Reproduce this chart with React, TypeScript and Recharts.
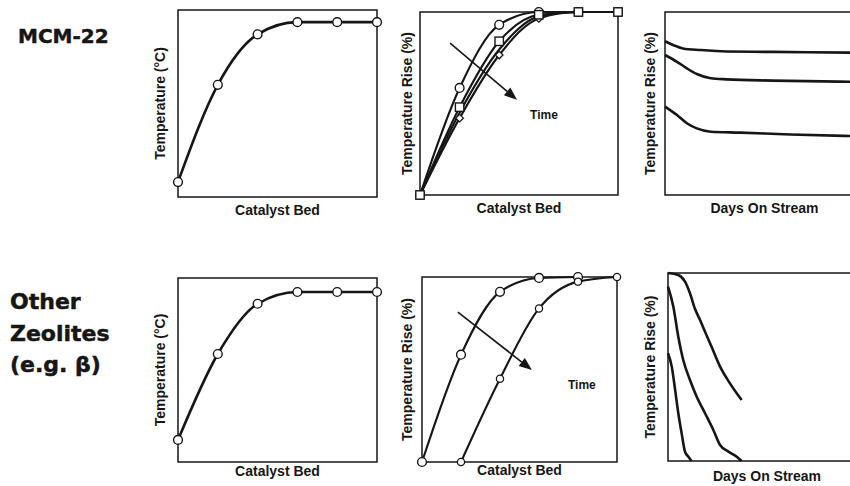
import React from "react";
import { LineChart, Line, XAxis, YAxis, ReferenceArea, ReferenceLine, ReferenceDot, Label } from "recharts";

// catalyst bed positions (thermocouple points)
const bedPositions = [0, 1, 2, 3, 4, 5];

// MCM-22 temperature profile along the bed
const mcmTemperature = [8, 60, 87, 93.5, 93.5, 93.5];
// MCM-22 temperature rise profiles, shifting slowly with time
const mcmRiseCircle = [0, 58.5, 93, 100, 100, 100];
const mcmRiseSquare = [0, 48, 84, 98.5, 100, 100];
const mcmRisePlain = [0, 45, 79.5, 97.5, 100, 100];
const mcmRiseDiamond = [0, 42, 76.5, 96.5, 100, 100];

// MCM-22 temperature rise vs days on stream
const mcmDaysTop = [0, 4, 9, 18, 31, 54, 95];
const mcmRiseTop = [84, 82, 80.1, 79.2, 78.4, 78.2, 77.8];
const mcmDaysMid = [0, 6, 11, 16, 23, 31, 54, 95];
const mcmRiseMid = [76.5, 72.8, 69.2, 66.1, 63.8, 63.2, 62.5, 61.9];
const mcmDaysLow = [0, 6, 11, 16, 23, 38, 63, 95];
const mcmRiseLow = [48.3, 43.7, 39.2, 36.4, 34.6, 34.1, 33.1, 32.2];

// other zeolites (beta)
const betaTemperature = [12, 58.7, 86, 92.4, 92.4, 92.4];
const betaRiseEarly = [0, 58, 92, 99.5, 100, null];
const betaRiseLate = [null, 0, 45, 83, 97.5, 100];

const betaDaysA = [0, 5.2, 8.6, 11.1, 13.6, 16.2, 18.7, 22, 26.3, 31.3, 37.2];
const betaRiseA = [100, 98.9, 95.4, 89.2, 81, 75, 68.8, 60.8, 50.2, 41.3, 32.4];
const betaDaysB = [0, 2.7, 5.2, 7.7, 11.1, 14.5, 18.7, 22.9, 26.3, 30.5, 34.7, 37.2];
const betaRiseB = [92.7, 82.1, 66.1, 53.7, 43.1, 34.2, 25.4, 16.5, 8.5, 5, 2.3, 0];
const betaDaysC = [0, 1.9, 3.6, 5.2, 6.9, 8.6, 10.3, 11.9];
const betaRiseC = [57.3, 50.2, 37.8, 25.4, 14.7, 4.9, 2.3, 0];

// "Time" arrows: [start, end] in bed / rise units, and label spot
const mcmArrow = [{ x: 0.76, y: 83 }, { x: 2.45, y: 52 }];
const mcmTimeLabel = { x: 3.13, y: 43.7 };
const betaArrow = [{ x: 0.92, y: 81 }, { x: 2.82, y: 49.7 }];
const betaTimeLabel = { x: 4.1, y: 41.6 };

const ink = "#161616";
const labelFont = "'Liberation Sans', Arial, sans-serif";
const titleFont = "'DejaVu Sans', sans-serif";

const bedRows = (vals: (number | null)[]) => bedPositions.map((b, i) => ({ bed: b, v: vals[i] }));
const dayRows = (days: number[], vals: number[]) => days.map((d, i) => ({ bed: d, v: vals[i] }));

const circleDot = { r: 4.4, fill: "#fff", stroke: ink, strokeWidth: 1.4 };
const smallCircle = { r: 3.6, fill: "#fff", stroke: ink, strokeWidth: 1.3 };

const SquareDot = (p: any) =>
  p.cx == null || p.cy == null ? (
    <g key={`sq-${p.index}`} />
  ) : (
    <rect key={`sq-${p.index}`} x={p.cx - 4.2} y={p.cy - 4.2} width={8.4} height={8.4} fill="#fff" stroke={ink} strokeWidth={1.4} />
  );

const DiamondDot = (p: any) =>
  p.cx == null || p.cy == null ? (
    <g key={`di-${p.index}`} />
  ) : (
    <polygon
      key={`di-${p.index}`}
      points={`${p.cx},${p.cy - 3.8} ${p.cx + 3.8},${p.cy} ${p.cx},${p.cy + 3.8} ${p.cx - 3.8},${p.cy}`}
      fill="#fff"
      stroke={ink}
      strokeWidth={1.3}
    />
  );

const ArrowShape = (p: any) => {
  const { x1, y1, x2, y2 } = p;
  const dx = x2 - x1;
  const dy = y2 - y1;
  const len = Math.sqrt(dx * dx + dy * dy) || 1;
  const ux = dx / len;
  const uy = dy / len;
  const head = 13;
  const half = 5;
  const bx = x2 - ux * head;
  const by = y2 - uy * head;
  return (
    <g>
      <line x1={x1} y1={y1} x2={bx} y2={by} stroke={ink} strokeWidth={1.6} />
      <polygon
        points={`${x2},${y2} ${bx - uy * half},${by + ux * half} ${bx + uy * half},${by - ux * half}`}
        fill={ink}
      />
    </g>
  );
};

const M = 8;

type Frame = { x0: number; x1: number; y0: number; y1: number; yLabelX: number; xLabelY: number };

function panel(frame: Frame, xMax: number, xLabel: string, yLabel: string, series: React.ReactNode[]) {
  const yAxisW = 2 * (frame.x0 - frame.yLabelX);
  const xAxisH = 2 * (frame.xLabelY - frame.y1);
  const width = yAxisW + (frame.x1 - frame.x0) + M;
  const height = M + (frame.y1 - frame.y0) + xAxisH;
  return (
    <div style={{ position: "absolute", left: frame.x0 - yAxisW, top: frame.y0 - M }}>
      <LineChart width={width} height={height} margin={{ top: M, right: M, bottom: 0, left: 0 }}>
        <XAxis type="number" dataKey="bed" domain={[0, xMax]} tick={false} tickLine={false} axisLine={false} height={xAxisH}>
          <Label value={xLabel} position="center" fontSize={14} fontWeight={700} fill={ink} fontFamily={labelFont} />
        </XAxis>
        <YAxis type="number" domain={[0, 100]} tick={false} tickLine={false} axisLine={false} width={yAxisW}>
          <Label value={yLabel} angle={-90} position="center" fontSize={14} fontWeight={700} fill={ink} fontFamily={labelFont} />
        </YAxis>
        <ReferenceArea x1={0} x2={xMax} y1={0} y2={100} fill="none" stroke={ink} strokeWidth={1.5} fillOpacity={0} />
        {series}
      </LineChart>
    </div>
  );
}

const curve = { stroke: ink, strokeWidth: 2.6, isAnimationActive: false, type: "monotone" as const };

export default function App() {
  return (
    <div style={{ position: "absolute", left: 0, top: 0, width: 850, height: 486, overflow: "hidden", background: "#fff" }}>
      <svg width={850} height={486} style={{ position: "absolute", left: 0, top: 0 }}>
        <g fontFamily={titleFont} fontWeight={700} fill={ink} stroke={ink} strokeWidth={0.5}>
          <text x={18} y={43} fontSize={20}>
            MCM-22
          </text>
          <text x={10} y={309} fontSize={22}>
            Other
          </text>
          <text x={10} y={341} fontSize={22}>
            Zeolites
          </text>
          <text x={10} y={372} fontSize={22}>
            (e.g. β)
          </text>
        </g>
      </svg>

      {panel({ x0: 178, x1: 377, y0: 10, y1: 197, yLabelX: 160, xLabelY: 210 }, 5, "Catalyst Bed", "Temperature (°C)", [
        <Line key="t" data={bedRows(mcmTemperature)} dataKey="v" {...curve} dot={circleDot} />,
      ])}

      {panel({ x0: 420, x1: 618, y0: 12, y1: 195, yLabelX: 407, xLabelY: 208 }, 5, "Catalyst Bed", "Temperature Rise (%)", [
        <Line key="c" data={bedRows(mcmRiseCircle)} dataKey="v" {...curve} strokeWidth={2.1} dot={circleDot} />,
        <Line key="p" data={bedRows(mcmRisePlain)} dataKey="v" {...curve} strokeWidth={2.1} dot={false} />,
        <Line key="d" data={bedRows(mcmRiseDiamond)} dataKey="v" {...curve} strokeWidth={2.1} dot={DiamondDot} />,
        <Line key="s" data={bedRows(mcmRiseSquare)} dataKey="v" {...curve} strokeWidth={2.1} dot={SquareDot} />,
        <ReferenceLine key="a" segment={mcmArrow} shape={ArrowShape} />,
        <ReferenceDot key="l" x={mcmTimeLabel.x} y={mcmTimeLabel.y} r={0} fill="none" stroke="none"
          label={{ value: "Time", position: "center", fontSize: 12, fontWeight: 700, fill: ink, fontFamily: labelFont }} />,
      ])}

      {panel({ x0: 665, x1: 864, y0: 12, y1: 195, yLabelX: 650, xLabelY: 208 }, 100, "Days On Stream", "Temperature Rise (%)", [
        <Line key="a" data={dayRows(mcmDaysTop, mcmRiseTop)} dataKey="v" {...curve} dot={false} />,
        <Line key="b" data={dayRows(mcmDaysMid, mcmRiseMid)} dataKey="v" {...curve} dot={false} />,
        <Line key="c" data={dayRows(mcmDaysLow, mcmRiseLow)} dataKey="v" {...curve} dot={false} />,
      ])}

      {panel({ x0: 178, x1: 377, y0: 278, y1: 462, yLabelX: 160, xLabelY: 471 }, 5, "Catalyst Bed", "Temperature (°C)", [
        <Line key="t" data={bedRows(betaTemperature)} dataKey="v" {...curve} dot={circleDot} />,
      ])}

      {panel({ x0: 422, x1: 617, y0: 277, y1: 462, yLabelX: 407, xLabelY: 470 }, 5, "Catalyst Bed", "Temperature Rise (%)", [
        <Line key="e" data={bedRows(betaRiseEarly)} dataKey="v" {...curve} strokeWidth={2.1} dot={circleDot} />,
        <Line key="l" data={bedRows(betaRiseLate)} dataKey="v" {...curve} strokeWidth={2.1} dot={smallCircle} />,
        <ReferenceLine key="a" segment={betaArrow} shape={ArrowShape} />,
        <ReferenceDot key="t" x={betaTimeLabel.x} y={betaTimeLabel.y} r={0} fill="none" stroke="none"
          label={{ value: "Time", position: "center", fontSize: 12, fontWeight: 700, fill: ink, fontFamily: labelFont }} />,
      ])}

      {panel({ x0: 668, x1: 866, y0: 273, y1: 461, yLabelX: 650, xLabelY: 476 }, 100, "Days On Stream", "Temperature Rise (%)", [
        <Line key="a" data={dayRows(betaDaysA, betaRiseA)} dataKey="v" {...curve} dot={false} />,
        <Line key="b" data={dayRows(betaDaysB, betaRiseB)} dataKey="v" {...curve} dot={false} />,
        <Line key="c" data={dayRows(betaDaysC, betaRiseC)} dataKey="v" {...curve} dot={false} />,
      ])}
    </div>
  );
}
